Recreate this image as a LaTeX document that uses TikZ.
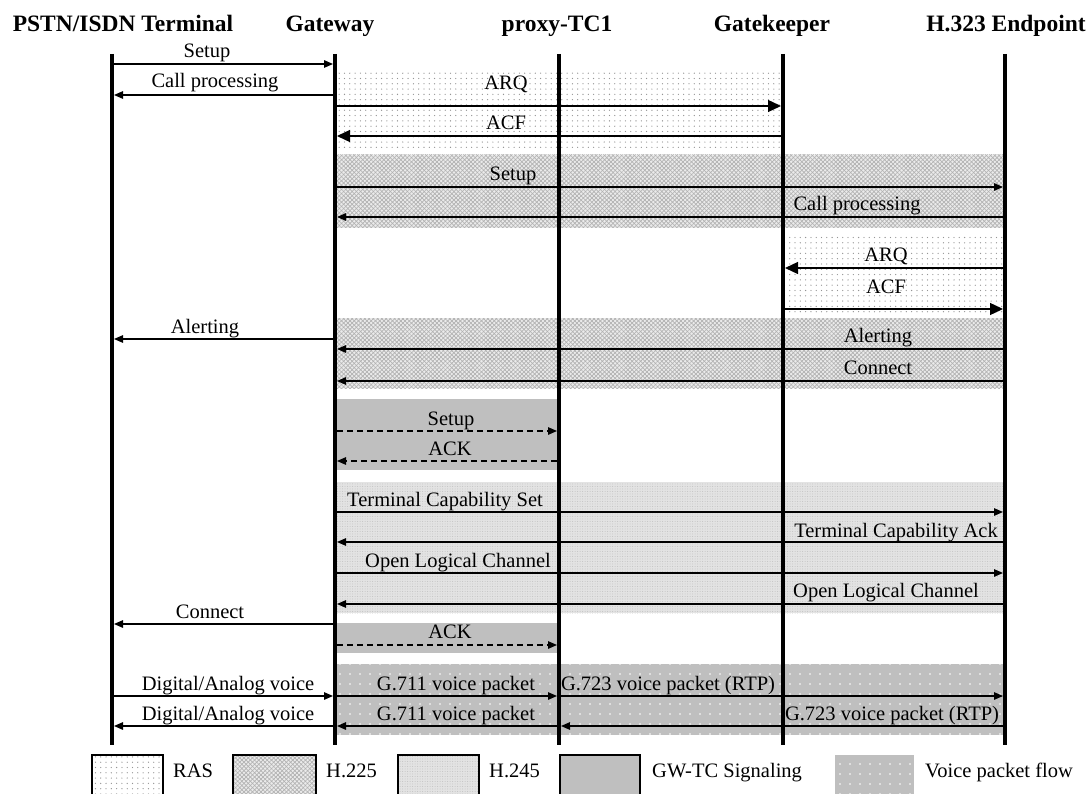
\documentclass[tikz,border=0pt]{standalone}
\usepackage{fontspec}
\setmainfont{Liberation Serif}
\usetikzlibrary{arrows.meta,patterns.meta}
\begin{document}
\begin{tikzpicture}[x=1pt,y=-1pt,
  life/.style={line width=4pt},
  msg/.style={line width=1.3pt,-{Triangle[length=9pt,width=7.5pt]},shorten >=2pt,shorten <=2pt},
  bigmsg/.style={msg,-{Triangle[length=13pt,width=12pt]}},
  dmsg/.style={msg,dash pattern=on 6pt off 4pt},
  lbl/.style={anchor=base,inner sep=0pt,font=\fontsize{20.5}{22}\selectfont},
  legl/.style={anchor=base west,inner sep=0pt,font=\fontsize{20.5}{22}\selectfont},
  head/.style={anchor=base,inner sep=0pt,font=\fontsize{23.5}{26}\selectfont\bfseries},
  ras/.style={pattern={Dots[distance=5.3pt,radius=0.65pt]},pattern color=black!42},
  h225/.style={preaction={fill=black!8},pattern={Lines[angle=45,distance=3pt,line width=0.7pt]},pattern color=black!30,
     postaction={pattern={Lines[angle=-45,distance=3pt,line width=0.7pt]},pattern color=black!30}},
  h245/.style={preaction={fill=black!11},pattern={Dots[distance=2.5pt,radius=0.5pt]},pattern color=black!24},
  gwtc/.style={fill=black!25},
  voice/.style={preaction={fill=black!25},pattern={Dots[distance=10pt,radius=0.8pt]},pattern color=white},
  legbox/.style={draw=black,line width=1.3pt}
]
\useasboundingbox (0,0) rectangle (1091,794);
\clip (0,0) rectangle (1091,794);
\fill[white] (0,0) rectangle (1091,794);

% lifeline coordinates
\coordinate (pstn) at (112,54);  \coordinate (pstnE) at (112,745);
\coordinate (gw) at (335,54);    \coordinate (gwE) at (335,745);
\coordinate (tc) at (559,54);    \coordinate (tcE) at (559,745);
\coordinate (gk) at (783,54);    \coordinate (gkE) at (783,745);
\coordinate (ep) at (1005,54);   \coordinate (epE) at (1005,745);

% headers
\node[head] (hpstn) at (123,32) {PSTN/ISDN Terminal};
\node[head] (hgw) at (330,32) {Gateway};
\node[head] (htc) at (557,32) {proxy-TC1};
\node[head] (hgk) at (772,32) {Gatekeeper};
\node[head] (hep) at (1006,32) {H.323 Endpoint};

% shaded regions
\path[ras]   (gw |- 0,73)  rectangle (gk |- 0,148);
\path[h225]  (gw |- 0,155) rectangle (ep |- 0,228);
\path[ras]   (gk |- 0,236) rectangle (ep |- 0,314);
\path[h225]  (gw |- 0,318) rectangle (ep |- 0,388);
\path[gwtc]  (gw |- 0,399) rectangle (tc |- 0,470);
\path[h245]  (gw |- 0,482) rectangle (ep |- 0,613);
\path[gwtc]  (gw |- 0,623) rectangle (tc |- 0,653);
\path[voice] (gw |- 0,664) rectangle (ep |- 0,735);

% lifelines
\draw[life] (pstn) -- (pstnE);
\draw[life] (gw) -- (gwE);
\draw[life] (tc) -- (tcE);
\draw[life] (gk) -- (gkE);
\draw[life] (ep) -- (epE);

% messages
\draw[msg] (pstn |- 0,64) -- (gw |- 0,64);
\draw[msg] (gw |- 0,95) -- (pstn |- 0,95);
\draw[bigmsg] (gw |- 0,106) -- (gk |- 0,106);
\draw[bigmsg] (gk |- 0,136) -- (gw |- 0,136);
\draw[msg] (gw |- 0,187) -- (ep |- 0,187);
\draw[msg] (ep |- 0,217) -- (gw |- 0,217);
\draw[bigmsg] (ep |- 0,268) -- (gk |- 0,268);
\draw[bigmsg] (gk |- 0,309) -- (ep |- 0,309);
\draw[msg] (gw |- 0,339) -- (pstn |- 0,339);
\draw[msg] (ep |- 0,349) -- (gw |- 0,349);
\draw[msg] (ep |- 0,381) -- (gw |- 0,381);
\draw[dmsg] (gw |- 0,431) -- (tc |- 0,431);
\draw[dmsg] (tc |- 0,461) -- (gw |- 0,461);
\draw[msg] (gw |- 0,512) -- (ep |- 0,512);
\draw[msg] (ep |- 0,542) -- (gw |- 0,542);
\draw[msg] (gw |- 0,573) -- (ep |- 0,573);
\draw[msg] (ep |- 0,604) -- (gw |- 0,604);
\draw[msg] (gw |- 0,624) -- (pstn |- 0,624);
\draw[dmsg] (gw |- 0,645) -- (tc |- 0,645);
\draw[msg] (pstn |- 0,696) -- (gw |- 0,696);
\draw[msg] (gw |- 0,696) -- (tc |- 0,696);
\draw[msg] (tc |- 0,696) -- (ep |- 0,696);
\draw[msg] (ep |- 0,726) -- (tc |- 0,726);
\draw[msg] (tc |- 0,726) -- (gw |- 0,726);
\draw[msg] (gw |- 0,726) -- (pstn |- 0,726);

% labels
\node[lbl] (l1) at (207,58) {Setup};
\node[lbl] (l2) at (215,88) {Call processing};
\node[lbl] (l3) at (506,90) {ARQ};
\node[lbl] (l4) at (506,130) {ACF};
\node[lbl] (l5) at (513,181) {Setup};
\node[lbl] (l6) at (857,211) {Call processing};
\node[lbl] (l7) at (886,261) {ARQ};
\node[lbl] (l8) at (886,293) {ACF};
\node[lbl] (l9) at (205,333) {Alerting};
\node[lbl] (l10) at (878,342) {Alerting};
\node[lbl] (l11) at (878,374) {Connect};
\node[lbl] (l12) at (451,425) {Setup};
\node[lbl] (l13) at (450,455) {ACK};
\node[lbl] (l14) at (445,506) {Terminal Capability Set};
\node[lbl] (l15) at (896,537) {Terminal Capability Ack};
\node[lbl] (l16) at (458,567) {Open Logical Channel};
\node[lbl] (l17) at (886,597) {Open Logical Channel};
\node[lbl] (l18) at (210,618) {Connect};
\node[lbl] (l19) at (450,638) {ACK};
\node[lbl] (l20) at (228,690) {Digital/Analog voice};
\node[lbl] (l21) at (456,690) {G.711 voice packet};
\node[lbl] (l22) at (668,690) {G.723 voice packet (RTP)};
\node[lbl] (l23) at (228,720) {Digital/Analog voice};
\node[lbl] (l24) at (456,720) {G.711 voice packet};
\node[lbl] (l25) at (892,720) {G.723 voice packet (RTP)};

% legend
\path[ras] (92,755) rectangle (163,800);
\draw[legbox] (92,755) rectangle (163,800);
\node[legl] (k1) at (173,777) {RAS};
\path[h225] (233,755) rectangle (316,800);
\draw[legbox] (233,755) rectangle (316,800);
\node[legl] (k2) at (326,777) {H.225};
\path[h245] (398,755) rectangle (479,800);
\draw[legbox] (398,755) rectangle (479,800);
\node[legl] (k3) at (489,777) {H.245};
\path[gwtc] (560,755) rectangle (640,800);
\draw[legbox] (560,755) rectangle (640,800);
\node[legl] (k4) at (652,777) {GW-TC Signaling};
\path[voice] (835,755) rectangle (914,800);
\node[legl] (k5) at (925,777) {Voice packet flow};
\end{tikzpicture}
\end{document}
